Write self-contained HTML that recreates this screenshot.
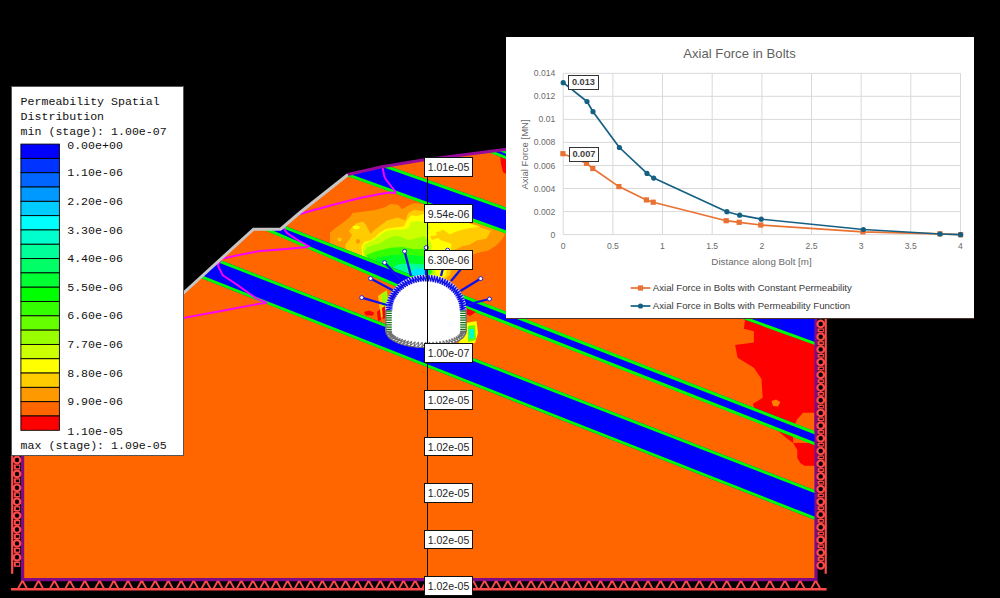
<!DOCTYPE html>
<html><head><meta charset="utf-8"><title>Permeability</title>
<style>
html,body{margin:0;padding:0;background:#000;}
body{width:1000px;height:598px;position:relative;overflow:hidden;font-family:"Liberation Sans",sans-serif;}
.lab{position:absolute;left:424px;width:47px;height:17.7px;border:1px solid #111;background:#fff;font-size:10.55px;line-height:18.7px;text-align:center;color:#222;box-sizing:content-box}
#vl{position:absolute;left:427px;top:170px;width:1.2px;height:410px;background:#000}
#legend{position:absolute;left:10.5px;top:85.5px;width:171px;height:368px;background:#fff;border:1px solid #555;font-family:"Liberation Mono",monospace;font-size:11.6px;color:#111}
#legend .t{position:absolute;left:9.1px;white-space:pre}
#legend .sw{position:absolute;left:9px;width:37.5px;height:13.3px;border:1px solid #000;box-sizing:content-box}
#legend .v{position:absolute;left:55.7px;white-space:pre}
#chart{position:absolute;left:506px;top:37px;width:467.7px;height:281.3px;background:#fff;border-bottom:1px solid #4a3428;box-sizing:content-box}
.ax{position:absolute;font-size:8.6px;color:#6a6a6a;white-space:nowrap}
</style></head><body>

<svg width="1000" height="598" viewBox="0 0 1000 598" style="position:absolute;left:0;top:0">
<defs><clipPath id="mc"><polygon points="23.0,446.0 184.0,292.5 253.5,229.2 280.5,229.2 300.0,212.5 348.0,174.5 382.0,166.8 423.0,160.0 505.0,149.6 817.0,110.0 817.0,579.0 23.0,579.0"/></clipPath></defs>
<rect width="1000" height="598" fill="#000"/>
<g clip-path="url(#mc)">
<rect x="0" y="100" width="830" height="490" fill="#ff6600"/>
<polygon points="330.0,232.7 336.0,227.4 342.0,223.6 349.6,217.6 352.6,213.0 364.6,211.6 375.2,210.0 385.7,207.0 390.2,204.0 397.8,204.8 402.3,209.3 408.3,205.5 414.3,203.3 420.4,204.0 426.0,203.5 505.0,231.7 504.3,235.7 501.3,240.2 495.3,246.2 487.8,250.7 480.2,252.2 472.7,254.5 466.0,262.0 462.0,270.3 455.0,277.0 447.0,282.0 426.0,280.0 400.0,282.0 330.0,244.4" fill="#ff9900" />
<polygon points="346.0,250.6 345.0,246.0 347.0,242.0 350.0,239.0 352.0,235.0 349.0,231.0 352.0,227.0 356.0,223.5 363.0,221.4 366.0,225.0 370.7,234.0 375.0,229.6 381.0,225.0 387.0,220.6 397.8,217.6 405.3,220.6 408.3,213.0 414.3,210.0 420.4,210.8 426.4,211.0 440.0,214.0 472.7,225.0 490.8,231.0 486.3,238.7 477.2,240.2 469.7,244.7 462.2,246.2 453.0,250.7 452.0,262.0 450.0,275.0 444.0,280.0 426.0,280.0 400.0,282.0" fill="#ffcc00" />
<polygon points="356.0,239.5 359.0,239.0 360.5,241.5 358.5,243.8 356.0,243.0" fill="#ff9900" />
<polygon points="337.5,238.0 340.0,237.5 342.0,239.5 340.5,241.7 338.0,241.0" fill="#ffcc00" />
<polygon points="361.6,246.2 364.6,241.7 370.7,240.2 375.2,237.2 379.7,232.7 385.7,228.9 394.8,227.4 403.8,226.6 406.8,220.6 411.3,215.3 417.3,216.0 423.4,214.0 445.0,216.0 480.2,226.6 469.7,228.0 457.7,231.0 450.0,234.2 442.6,229.6 435.0,235.7 430.0,236.0 432.0,240.0 438.0,238.0 451.6,244.0 450.0,252.0 448.0,262.0 446.0,276.0 440.0,280.0 426.0,280.0 400.0,282.0 362.0,256.8" fill="#ffff00" />
<polygon points="352.6,226.2 357.0,225.6 360.0,227.0 359.0,228.9 354.0,229.2" fill="#ffff00" />
<polygon points="436.0,232.0 443.0,231.0 449.0,236.0 447.0,242.0 440.0,240.0" fill="#ffcc00" />
<polygon points="362.4,250.7 363.9,244.7 369.2,241.7 373.7,239.4 381.2,234.2 387.2,230.4 396.3,229.6 403.8,229.6 408.3,228.0 411.3,222.0 418.0,221.0 424.0,222.0 430.0,226.0 428.0,236.0 432.0,246.0 430.0,256.0 434.0,266.0 437.0,276.0 426.0,280.0 400.0,282.0 364.0,257.6" fill="#ccff00" />
<polygon points="363.9,252.2 367.7,247.0 379.7,243.2 387.2,238.7 394.8,235.7 402.3,237.2 408.3,240.2 417.3,238.0 424.0,236.0 428.0,240.0 430.0,250.0 431.0,260.0 434.0,272.0 426.0,280.0 400.0,282.0 366.0,258.4" fill="#99ff00" />
<polygon points="366.0,255.2 375.2,251.5 390.2,247.7 402.3,247.0 414.3,249.2 424.0,249.0 429.0,253.0 430.0,262.0 432.0,272.0 426.0,280.0 400.0,282.0 370.0,259.9" fill="#33ff00" />
<polygon points="375.2,258.3 390.2,255.2 402.3,254.5 414.3,255.2 424.0,256.5 428.5,260.0 430.0,272.0 426.0,280.0 400.0,282.0 378.0,263.0" fill="#00ff22" />
<polygon points="392.0,268.0 399.0,264.0 412.0,263.5 424.0,264.5 428.0,268.0 429.0,276.0 426.0,280.0 400.0,282.0 394.0,270.2" fill="#00ff99" />
<polygon points="411.0,273.0 415.0,268.5 424.0,268.5 428.0,272.0 428.0,279.0 411.0,280.0" fill="#00e5ff" />
<polygon points="745.0,320.0 743.9,328.8 753.9,331.3 753.9,342.6 735.1,345.1 737.6,357.7 753.9,367.7 761.5,379.0 762.7,397.8 752.7,404.0 760.0,420.0 778.2,431.0 786.2,438.0 793.2,443.0 797.3,450.0 797.3,458.0 800.3,463.0 804.3,465.8 820.0,465.8 820.0,340.0" fill="#ff0000" />
<polygon points="771.5,401.0 776.0,399.5 780.3,402.0 778.0,406.6 773.0,406.0" fill="#ff8000" />
<polygon points="796.6,420.0 803.0,412.8 814.5,412.8 814.5,443.0 793.2,443.0 793.2,430.0" fill="#ff6600" />
<polygon points="500.0,156.0 506.0,156.0 506.0,174.0 503.0,172.0 501.0,164.0" fill="#ff0000" />
<polygon points="500.0,148.6 830.0,267.4 830.0,288.7 486.5,151.3" fill="#0000ff" />
<line x1="500.0" y1="150.0" x2="830.0" y2="268.8" stroke="#00ff00" stroke-width="2.9"/>
<line x1="486.5" y1="149.9" x2="830.0" y2="287.3" stroke="#00ff00" stroke-width="2.9"/>
<polygon points="383.0,164.2 830.0,321.1 830.0,350.3 348.0,176.3" fill="#0000ff" />
<line x1="383.0" y1="165.6" x2="830.0" y2="322.5" stroke="#00ff00" stroke-width="2.9"/>
<line x1="348.0" y1="174.9" x2="830.0" y2="348.9" stroke="#00ff00" stroke-width="2.9"/>
<polygon points="282.0,224.8 426.0,280.6 426.0,299.3 262.5,229.0" fill="#0000ff" />
<line x1="282.0" y1="226.3" x2="426.0" y2="282.1" stroke="#00ff00" stroke-width="2.9"/>
<line x1="262.5" y1="227.6" x2="426.0" y2="297.9" stroke="#00ff00" stroke-width="2.9"/>
<polygon points="426.0,280.6 830.0,437.2 830.0,451.1 426.0,293.0" fill="#0000ff" />
<line x1="426.0" y1="282.1" x2="830.0" y2="438.7" stroke="#00ff00" stroke-width="2.9"/>
<line x1="426.0" y1="291.5" x2="830.0" y2="449.7" stroke="#00ff00" stroke-width="2.9"/>
<polygon points="0.0,175.0 830.0,496.1 830.0,525.8 0.0,198.8" fill="#0000ff" />
<line x1="0.0" y1="176.5" x2="830.0" y2="497.5" stroke="#00ff00" stroke-width="2.9"/>
<line x1="0.0" y1="197.4" x2="830.0" y2="524.3" stroke="#00ff00" stroke-width="2.9"/>
<polygon points="466.0,323.0 476.5,321.0 478.0,333.0 475.0,343.0 457.0,345.0 461.0,339.0 466.0,331.0" fill="#ffff00" />
<polygon points="468.0,326.0 475.0,325.0 476.0,340.0 468.0,342.0" fill="#66ff00" />
<polygon points="469.0,329.0 474.0,329.0 474.0,338.0 469.0,339.0" fill="#00ffcc" />
<polygon points="378.0,296.0 387.0,290.0 388.0,312.0 381.0,318.0" fill="#ffcc00" />
<polygon points="381.0,294.0 387.0,291.0 388.0,305.0 383.0,308.0" fill="#99ff00" />
<polygon points="377.0,312.0 380.0,309.0 381.0,320.0 378.0,321.0" fill="#ff0000" />
<polygon points="364.0,312.0 369.0,310.5 374.0,312.5 373.0,315.5 366.0,315.5" fill="#ff0000" />
<polygon points="382.0,308.0 385.0,306.0 385.5,318.0 383.0,319.0" fill="#ff0000" />
<polygon points="466.0,308.0 476.0,312.0 470.0,316.0 466.0,314.0" fill="#ff0000" />
<polyline points="382.5,165.5 383.0,170.0 384.5,177.0 387.0,181.0 395.0,191.0 395.5,193.0 390.0,192.5 380.0,194.0 360.0,198.0 340.0,203.0 314.0,210.0 298.0,214.5 282.0,225.0 284.5,229.5 287.0,233.0 296.0,239.0 309.0,246.5 305.0,247.2 280.0,249.5 260.0,251.0 237.8,255.2 221.5,258.9 217.7,265.2 222.7,275.2 237.8,285.3 255.3,297.8 266.6,302.8 257.8,304.0 225.2,310.3 183.9,317.9 120.0,330.0" fill="none" stroke="#ff00ff" stroke-width="1.9" stroke-linejoin="round"/>
</g>
<polyline points="23.0,446.0 184.0,292.5 253.5,229.2 280.5,229.2 300.0,212.5 348.0,174.5" fill="none" stroke="#c6c6c6" stroke-width="3"/>
<polyline points="348.0,174.5 382.0,166.8 423.0,160.0 505.0,149.6 817.0,110.0" fill="none" stroke="#9a0a9a" stroke-width="3"/>
<polyline points="22.6,440 22.6,579.6 816,579.6 816,300" fill="none" stroke="#800a86" stroke-width="3.2"/>
<path d="M 385.5,310 A 40.5 35.4 0 0 1 466.5,310 L 466.5,331 A 40.5 16.8 0 0 1 385.5,331 Z" fill="#fff"/>
<path d="M 388.6,310 A 37.4 32.3 0 0 1 463.4,310" fill="none" stroke="#5a5af0" stroke-width="5.6" opacity="0.25"/>
<path d="M 392.40,310.00 L 385.70,310.00 L 392.49,307.96 M 392.49,307.96 L 385.80,307.49 L 392.74,305.93 M 392.74,305.93 L 386.11,304.99 L 393.17,303.92 M 393.17,303.92 L 386.62,302.52 L 393.76,301.94 M 393.76,301.94 L 387.33,300.08 L 394.52,300.01 M 394.52,300.01 L 388.24,297.70 L 395.44,298.12 M 395.44,298.12 L 389.34,295.38 L 396.51,296.29 M 396.51,296.29 L 390.63,293.13 L 397.73,294.54 M 397.73,294.54 L 392.10,290.97 L 399.10,292.86 M 399.10,292.86 L 393.74,288.91 L 400.61,291.27 M 400.61,291.27 L 395.54,286.95 L 402.24,289.78 M 402.24,289.78 L 397.50,285.11 L 404.00,288.39 M 404.00,288.39 L 399.61,283.40 L 405.86,287.10 M 405.86,287.10 L 401.85,281.82 L 407.83,285.94 M 407.83,285.94 L 404.21,280.39 L 409.90,284.90 M 409.90,284.90 L 406.69,279.11 L 412.04,283.98 M 412.04,283.98 L 409.26,277.98 L 414.26,283.20 M 414.26,283.20 L 411.92,277.02 L 416.53,282.56 M 416.53,282.56 L 414.65,276.23 L 418.86,282.05 M 418.86,282.05 L 417.43,275.60 L 421.22,281.69 M 421.22,281.69 L 420.26,275.16 L 423.60,281.47 M 423.60,281.47 L 423.13,274.89 L 426.00,281.40 M 426.00,281.40 L 426.00,274.80 L 428.40,281.47 M 428.40,281.47 L 428.87,274.89 L 430.78,281.69 M 430.78,281.69 L 431.74,275.16 L 433.14,282.05 M 433.14,282.05 L 434.57,275.60 L 435.47,282.56 M 435.47,282.56 L 437.35,276.23 L 437.74,283.20 M 437.74,283.20 L 440.08,277.02 L 439.96,283.98 M 439.96,283.98 L 442.74,277.98 L 442.10,284.90 M 442.10,284.90 L 445.31,279.11 L 444.17,285.94 M 444.17,285.94 L 447.79,280.39 L 446.14,287.10 M 446.14,287.10 L 450.15,281.82 L 448.00,288.39 M 448.00,288.39 L 452.39,283.40 L 449.76,289.78 M 449.76,289.78 L 454.50,285.11 L 451.39,291.27 M 451.39,291.27 L 456.46,286.95 L 452.90,292.86 M 452.90,292.86 L 458.26,288.91 L 454.27,294.54 M 454.27,294.54 L 459.90,290.97 L 455.49,296.29 M 455.49,296.29 L 461.37,293.13 L 456.56,298.12 M 456.56,298.12 L 462.66,295.38 L 457.48,300.01 M 457.48,300.01 L 463.76,297.70 L 458.24,301.94 M 458.24,301.94 L 464.67,300.08 L 458.83,303.92 M 458.83,303.92 L 465.38,302.52 L 459.26,305.93 M 459.26,305.93 L 465.89,304.99 L 459.51,307.96 M 459.51,307.96 L 466.20,307.49 L 459.60,310.00 M 459.60,310.00 L 466.30,310.00" fill="none" stroke="#1010e6" stroke-width="1.20" stroke-linejoin="bevel"/>
<path d="M 385.8,311.0 L 391.8,311.0 M 460.2,311.0 L 466.2,311.0 M 385.8,313.3 L 391.8,313.3 M 460.2,313.3 L 466.2,313.3 M 385.8,315.6 L 391.8,315.6 M 460.2,315.6 L 466.2,315.6 M 385.8,317.9 L 391.8,317.9 M 460.2,317.9 L 466.2,317.9 M 385.8,320.2 L 391.8,320.2 M 460.2,320.2 L 466.2,320.2 M 385.8,322.5 L 391.8,322.5 M 460.2,322.5 L 466.2,322.5 M 385.8,324.8 L 391.8,324.8 M 460.2,324.8 L 466.2,324.8 M 385.8,327.1 L 391.8,327.1 M 460.2,327.1 L 466.2,327.1 M 385.8,329.4 L 391.8,329.4 M 460.2,329.4 L 466.2,329.4 M 385.8,331.7 L 391.8,331.7 M 460.2,331.7 L 466.2,331.7" fill="none" stroke="#0f700f" stroke-width="1.25"/>
<path d="M 391.60,331.00 L 385.80,331.00 L 391.79,332.17 M 391.79,332.17 L 386.02,332.74 L 392.35,333.33 M 392.35,333.33 L 386.68,334.45 L 393.28,334.46 M 393.28,334.46 L 387.77,336.13 L 394.57,335.56 M 394.57,335.56 L 389.28,337.75 L 396.21,336.60 M 396.21,336.60 L 391.19,339.30 L 398.17,337.58 M 398.17,337.58 L 393.48,340.76 L 400.44,338.49 M 400.44,338.49 L 396.13,342.11 L 402.98,339.32 M 402.98,339.32 L 399.10,343.34 L 405.78,340.06 M 405.78,340.06 L 402.37,344.43 L 408.80,340.70 M 408.80,340.70 L 405.90,345.38 L 412.01,341.23 M 412.01,341.23 L 409.65,346.16 L 415.37,341.65 M 415.37,341.65 L 413.58,346.79 L 418.85,341.96 M 418.85,341.96 L 417.64,347.24 L 422.40,342.14 M 422.40,342.14 L 421.80,347.51 L 426.00,342.20 M 426.00,342.20 L 426.00,347.60 L 429.60,342.14 M 429.60,342.14 L 430.20,347.51 L 433.15,341.96 M 433.15,341.96 L 434.36,347.24 L 436.63,341.65 M 436.63,341.65 L 438.42,346.79 L 439.99,341.23 M 439.99,341.23 L 442.35,346.16 L 443.20,340.70 M 443.20,340.70 L 446.10,345.38 L 446.22,340.06 M 446.22,340.06 L 449.63,344.43 L 449.02,339.32 M 449.02,339.32 L 452.90,343.34 L 451.56,338.49 M 451.56,338.49 L 455.87,342.11 L 453.83,337.58 M 453.83,337.58 L 458.52,340.76 L 455.79,336.60 M 455.79,336.60 L 460.81,339.30 L 457.43,335.56 M 457.43,335.56 L 462.72,337.75 L 458.72,334.46 M 458.72,334.46 L 464.23,336.13 L 459.65,333.33 M 459.65,333.33 L 465.32,334.45 L 460.21,332.17 M 460.21,332.17 L 465.98,332.74 L 460.40,331.00 M 460.40,331.00 L 466.20,331.00" fill="none" stroke="#707070" stroke-width="1.05" stroke-linejoin="bevel"/>
<path d="M 385.8,310 L 385.8,331 A 40.2 16.6 0 0 0 466.2,331 L 466.2,310" fill="none" stroke="#6a6a6a" stroke-width="1.2"/>
<line x1="387.0" y1="305.0" x2="361.7" y2="297.6" stroke="#1010e8" stroke-width="2.3"/>
<line x1="392.6" y1="290.2" x2="370.6" y2="278.5" stroke="#1010e8" stroke-width="2.3"/>
<line x1="400.0" y1="279.0" x2="384.6" y2="262.6" stroke="#1010e8" stroke-width="2.3"/>
<line x1="411.0" y1="276.0" x2="404.6" y2="251.3" stroke="#1010e8" stroke-width="2.3"/>
<line x1="426.0" y1="275.0" x2="426.3" y2="247.6" stroke="#1010e8" stroke-width="2.3"/>
<line x1="441.0" y1="276.0" x2="447.6" y2="250.2" stroke="#1010e8" stroke-width="2.3"/>
<line x1="451.0" y1="281.0" x2="467.0" y2="262.0" stroke="#1010e8" stroke-width="2.3"/>
<line x1="460.4" y1="291.0" x2="480.7" y2="278.6" stroke="#1010e8" stroke-width="2.3"/>
<line x1="465.4" y1="305.0" x2="489.5" y2="299.0" stroke="#1010e8" stroke-width="2.3"/>
<circle cx="361.7" cy="297.6" r="2" fill="#fff" stroke="#2020e0" stroke-width="1"/>
<circle cx="370.6" cy="278.5" r="2" fill="#fff" stroke="#2020e0" stroke-width="1"/>
<circle cx="384.6" cy="262.6" r="2" fill="#fff" stroke="#2020e0" stroke-width="1"/>
<circle cx="404.6" cy="251.3" r="2" fill="#fff" stroke="#2020e0" stroke-width="1"/>
<circle cx="426.3" cy="247.6" r="2" fill="#fff" stroke="#2020e0" stroke-width="1"/>
<circle cx="447.6" cy="250.2" r="2" fill="#fff" stroke="#2020e0" stroke-width="1"/>
<circle cx="467.0" cy="262.0" r="2" fill="#fff" stroke="#2020e0" stroke-width="1"/>
<circle cx="480.7" cy="278.6" r="2" fill="#fff" stroke="#2020e0" stroke-width="1"/>
<circle cx="489.5" cy="299.0" r="2" fill="#fff" stroke="#2020e0" stroke-width="1"/>
<path d="M 18.0,588.6 L 21.8,581.8 L 23.2,581.8 L 27.0,588.6 M 34.1,588.6 L 37.9,581.8 L 39.3,581.8 L 43.1,588.6 M 49.9,588.6 L 53.7,581.8 L 55.1,581.8 L 58.9,588.6 M 65.3,588.6 L 69.1,581.8 L 70.5,581.8 L 74.3,588.6 M 80.3,588.6 L 84.1,581.8 L 85.5,581.8 L 89.3,588.6 M 95.1,588.6 L 98.9,581.8 L 100.3,581.8 L 104.1,588.6 M 109.4,588.6 L 113.2,581.8 L 114.6,581.8 L 118.4,588.6 M 123.5,588.6 L 127.3,581.8 L 128.7,581.8 L 132.5,588.6 M 137.3,588.6 L 141.1,581.8 L 142.5,581.8 L 146.3,588.6 M 150.7,588.6 L 154.5,581.8 L 155.9,581.8 L 159.7,588.6 M 163.8,588.6 L 167.6,581.8 L 169.0,581.8 L 172.8,588.6 M 176.7,588.6 L 180.5,581.8 L 181.9,581.8 L 185.7,588.6 M 189.2,588.6 L 193.0,581.8 L 194.4,581.8 L 198.2,588.6 M 201.5,588.6 L 205.3,581.8 L 206.7,581.8 L 210.5,588.6 M 213.5,588.6 L 217.3,581.8 L 218.7,581.8 L 222.5,588.6 M 225.2,588.6 L 229.0,581.8 L 230.4,581.8 L 234.2,588.6 M 236.8,588.6 L 240.6,581.8 L 242.0,581.8 L 245.8,588.6 M 248.4,588.6 L 252.2,581.8 L 253.6,581.8 L 257.4,588.6 M 260.0,588.6 L 263.8,581.8 L 265.2,581.8 L 269.0,588.6 M 271.5,588.6 L 275.3,581.8 L 276.7,581.8 L 280.5,588.6 M 283.1,588.6 L 286.9,581.8 L 288.3,581.8 L 292.1,588.6 M 294.7,588.6 L 298.5,581.8 L 299.9,581.8 L 303.7,588.6 M 306.3,588.6 L 310.1,581.8 L 311.5,581.8 L 315.3,588.6 M 317.9,588.6 L 321.7,581.8 L 323.1,581.8 L 326.9,588.6 M 329.5,588.6 L 333.3,581.8 L 334.7,581.8 L 338.5,588.6 M 341.1,588.6 L 344.9,581.8 L 346.3,581.8 L 350.1,588.6 M 352.7,588.6 L 356.5,581.8 L 357.9,581.8 L 361.7,588.6 M 364.2,588.6 L 368.0,581.8 L 369.4,581.8 L 373.2,588.6 M 375.8,588.6 L 379.6,581.8 L 381.0,581.8 L 384.8,588.6 M 387.4,588.6 L 391.2,581.8 L 392.6,581.8 L 396.4,588.6 M 399.0,588.6 L 402.8,581.8 L 404.2,581.8 L 408.0,588.6 M 410.6,588.6 L 414.4,581.8 L 415.8,581.8 L 419.6,588.6 M 422.2,588.6 L 426.0,581.8 L 427.4,581.8 L 431.2,588.6 M 433.8,588.6 L 437.6,581.8 L 439.0,581.8 L 442.8,588.6 M 445.4,588.6 L 449.2,581.8 L 450.6,581.8 L 454.4,588.6 M 456.9,588.6 L 460.7,581.8 L 462.1,581.8 L 465.9,588.6 M 468.5,588.6 L 472.3,581.8 L 473.7,581.8 L 477.5,588.6 M 480.1,588.6 L 483.9,581.8 L 485.3,581.8 L 489.1,588.6 M 491.7,588.6 L 495.5,581.8 L 496.9,581.8 L 500.7,588.6 M 503.3,588.6 L 507.1,581.8 L 508.5,581.8 L 512.3,588.6 M 514.9,588.6 L 518.7,581.8 L 520.1,581.8 L 523.9,588.6 M 526.5,588.6 L 530.3,581.8 L 531.7,581.8 L 535.5,588.6 M 538.0,588.6 L 541.8,581.8 L 543.2,581.8 L 547.0,588.6 M 549.6,588.6 L 553.4,581.8 L 554.8,581.8 L 558.6,588.6 M 561.2,588.6 L 565.0,581.8 L 566.4,581.8 L 570.2,588.6 M 572.8,588.6 L 576.6,581.8 L 578.0,581.8 L 581.8,588.6 M 584.4,588.6 L 588.2,581.8 L 589.6,581.8 L 593.4,588.6 M 596.0,588.6 L 599.8,581.8 L 601.2,581.8 L 605.0,588.6 M 607.6,588.6 L 611.4,581.8 L 612.8,581.8 L 616.6,588.6 M 619.3,588.6 L 623.1,581.8 L 624.5,581.8 L 628.3,588.6 M 631.3,588.6 L 635.1,581.8 L 636.5,581.8 L 640.3,588.6 M 643.5,588.6 L 647.3,581.8 L 648.7,581.8 L 652.5,588.6 M 656.0,588.6 L 659.8,581.8 L 661.2,581.8 L 665.0,588.6 M 668.7,588.6 L 672.5,581.8 L 673.9,581.8 L 677.7,588.6 M 681.7,588.6 L 685.5,581.8 L 686.9,581.8 L 690.7,588.6 M 695.0,588.6 L 698.8,581.8 L 700.2,581.8 L 704.0,588.6 M 708.5,588.6 L 712.3,581.8 L 713.7,581.8 L 717.5,588.6 M 722.3,588.6 L 726.1,581.8 L 727.5,581.8 L 731.3,588.6 M 736.4,588.6 L 740.2,581.8 L 741.6,581.8 L 745.4,588.6 M 750.7,588.6 L 754.5,581.8 L 755.9,581.8 L 759.7,588.6 M 765.4,588.6 L 769.2,581.8 L 770.6,581.8 L 774.4,588.6 M 780.4,588.6 L 784.2,581.8 L 785.6,581.8 L 789.4,588.6 M 795.6,588.6 L 799.4,581.8 L 800.8,581.8 L 804.6,588.6 M 811.2,588.6 L 815.0,581.8 L 816.4,581.8 L 820.2,588.6" fill="none" stroke="#ff4a4a" stroke-width="1.9" stroke-linejoin="miter"/>
<line x1="11" y1="589.3" x2="826.6" y2="589.3" stroke="#ff4a4a" stroke-width="2.4"/>
<line x1="12.2" y1="455.0" x2="12.2" y2="573.8" stroke="#ff4a4a" stroke-width="2.2"/>
<circle cx="17.0" cy="460.0" r="3.3" fill="#000" stroke="#ff4a4a" stroke-width="2.2"/>
<rect x="13.8" y="464.4" width="6.4" height="5.1" fill="#ff4a4a"/>
<rect x="15.8" y="465.7" width="3.4" height="2.5" fill="#000"/>
<circle cx="17.0" cy="473.9" r="3.3" fill="#000" stroke="#ff4a4a" stroke-width="2.2"/>
<rect x="13.8" y="478.3" width="6.4" height="5.1" fill="#ff4a4a"/>
<rect x="15.8" y="479.6" width="3.4" height="2.5" fill="#000"/>
<circle cx="17.0" cy="487.8" r="3.3" fill="#000" stroke="#ff4a4a" stroke-width="2.2"/>
<rect x="13.8" y="492.2" width="6.4" height="5.1" fill="#ff4a4a"/>
<rect x="15.8" y="493.5" width="3.4" height="2.5" fill="#000"/>
<circle cx="17.0" cy="501.7" r="3.3" fill="#000" stroke="#ff4a4a" stroke-width="2.2"/>
<rect x="13.8" y="506.1" width="6.4" height="5.1" fill="#ff4a4a"/>
<rect x="15.8" y="507.4" width="3.4" height="2.5" fill="#000"/>
<circle cx="17.0" cy="515.6" r="3.3" fill="#000" stroke="#ff4a4a" stroke-width="2.2"/>
<rect x="13.8" y="520.0" width="6.4" height="5.1" fill="#ff4a4a"/>
<rect x="15.8" y="521.3" width="3.4" height="2.5" fill="#000"/>
<circle cx="17.0" cy="529.5" r="3.3" fill="#000" stroke="#ff4a4a" stroke-width="2.2"/>
<rect x="13.8" y="533.9" width="6.4" height="5.1" fill="#ff4a4a"/>
<rect x="15.8" y="535.2" width="3.4" height="2.5" fill="#000"/>
<circle cx="17.0" cy="543.4" r="3.3" fill="#000" stroke="#ff4a4a" stroke-width="2.2"/>
<rect x="13.8" y="547.8" width="6.4" height="5.1" fill="#ff4a4a"/>
<rect x="15.8" y="549.1" width="3.4" height="2.5" fill="#000"/>
<circle cx="17.0" cy="557.3" r="3.3" fill="#000" stroke="#ff4a4a" stroke-width="2.2"/>
<rect x="13.8" y="561.7" width="6.4" height="5.1" fill="#ff4a4a"/>
<rect x="15.8" y="563.0" width="3.4" height="2.5" fill="#000"/>
<line x1="825.7" y1="319.0" x2="825.7" y2="573.8" stroke="#ff4a4a" stroke-width="2.2"/>
<circle cx="820.7" cy="324.0" r="3.3" fill="#000" stroke="#ff4a4a" stroke-width="2.2"/>
<rect x="817.5" y="328.4" width="6.4" height="3.9" fill="#ff4a4a"/>
<rect x="819.5" y="329.7" width="3.4" height="1.3" fill="#000"/>
<circle cx="820.7" cy="336.7" r="3.3" fill="#000" stroke="#ff4a4a" stroke-width="2.2"/>
<rect x="817.5" y="341.1" width="6.4" height="3.9" fill="#ff4a4a"/>
<rect x="819.5" y="342.4" width="3.4" height="1.3" fill="#000"/>
<circle cx="820.7" cy="349.4" r="3.3" fill="#000" stroke="#ff4a4a" stroke-width="2.2"/>
<rect x="817.5" y="353.8" width="6.4" height="3.9" fill="#ff4a4a"/>
<rect x="819.5" y="355.1" width="3.4" height="1.3" fill="#000"/>
<circle cx="820.7" cy="362.1" r="3.3" fill="#000" stroke="#ff4a4a" stroke-width="2.2"/>
<rect x="817.5" y="366.5" width="6.4" height="3.9" fill="#ff4a4a"/>
<rect x="819.5" y="367.8" width="3.4" height="1.3" fill="#000"/>
<circle cx="820.7" cy="374.8" r="3.3" fill="#000" stroke="#ff4a4a" stroke-width="2.2"/>
<rect x="817.5" y="379.2" width="6.4" height="3.9" fill="#ff4a4a"/>
<rect x="819.5" y="380.5" width="3.4" height="1.3" fill="#000"/>
<circle cx="820.7" cy="387.5" r="3.3" fill="#000" stroke="#ff4a4a" stroke-width="2.2"/>
<rect x="817.5" y="391.9" width="6.4" height="3.9" fill="#ff4a4a"/>
<rect x="819.5" y="393.2" width="3.4" height="1.3" fill="#000"/>
<circle cx="820.7" cy="400.2" r="3.3" fill="#000" stroke="#ff4a4a" stroke-width="2.2"/>
<rect x="817.5" y="404.6" width="6.4" height="3.9" fill="#ff4a4a"/>
<rect x="819.5" y="405.9" width="3.4" height="1.3" fill="#000"/>
<circle cx="820.7" cy="412.9" r="3.3" fill="#000" stroke="#ff4a4a" stroke-width="2.2"/>
<rect x="817.5" y="417.3" width="6.4" height="3.9" fill="#ff4a4a"/>
<rect x="819.5" y="418.6" width="3.4" height="1.3" fill="#000"/>
<circle cx="820.7" cy="425.6" r="3.3" fill="#000" stroke="#ff4a4a" stroke-width="2.2"/>
<rect x="817.5" y="430.0" width="6.4" height="3.9" fill="#ff4a4a"/>
<rect x="819.5" y="431.3" width="3.4" height="1.3" fill="#000"/>
<circle cx="820.7" cy="438.3" r="3.3" fill="#000" stroke="#ff4a4a" stroke-width="2.2"/>
<rect x="817.5" y="442.7" width="6.4" height="3.9" fill="#ff4a4a"/>
<rect x="819.5" y="444.0" width="3.4" height="1.3" fill="#000"/>
<circle cx="820.7" cy="451.0" r="3.3" fill="#000" stroke="#ff4a4a" stroke-width="2.2"/>
<rect x="817.5" y="455.4" width="6.4" height="3.9" fill="#ff4a4a"/>
<rect x="819.5" y="456.7" width="3.4" height="1.3" fill="#000"/>
<circle cx="820.7" cy="463.7" r="3.3" fill="#000" stroke="#ff4a4a" stroke-width="2.2"/>
<rect x="817.5" y="468.1" width="6.4" height="3.9" fill="#ff4a4a"/>
<rect x="819.5" y="469.4" width="3.4" height="1.3" fill="#000"/>
<circle cx="820.7" cy="476.4" r="3.3" fill="#000" stroke="#ff4a4a" stroke-width="2.2"/>
<rect x="817.5" y="480.8" width="6.4" height="3.9" fill="#ff4a4a"/>
<rect x="819.5" y="482.1" width="3.4" height="1.3" fill="#000"/>
<circle cx="820.7" cy="489.1" r="3.3" fill="#000" stroke="#ff4a4a" stroke-width="2.2"/>
<rect x="817.5" y="493.5" width="6.4" height="3.9" fill="#ff4a4a"/>
<rect x="819.5" y="494.8" width="3.4" height="1.3" fill="#000"/>
<circle cx="820.7" cy="501.8" r="3.3" fill="#000" stroke="#ff4a4a" stroke-width="2.2"/>
<rect x="817.5" y="506.2" width="6.4" height="3.9" fill="#ff4a4a"/>
<rect x="819.5" y="507.5" width="3.4" height="1.3" fill="#000"/>
<circle cx="820.7" cy="514.5" r="3.3" fill="#000" stroke="#ff4a4a" stroke-width="2.2"/>
<rect x="817.5" y="518.9" width="6.4" height="3.9" fill="#ff4a4a"/>
<rect x="819.5" y="520.2" width="3.4" height="1.3" fill="#000"/>
<circle cx="820.7" cy="527.2" r="3.3" fill="#000" stroke="#ff4a4a" stroke-width="2.2"/>
<rect x="817.5" y="531.6" width="6.4" height="3.9" fill="#ff4a4a"/>
<rect x="819.5" y="532.9" width="3.4" height="1.3" fill="#000"/>
<circle cx="820.7" cy="539.9" r="3.3" fill="#000" stroke="#ff4a4a" stroke-width="2.2"/>
<rect x="817.5" y="544.3" width="6.4" height="3.9" fill="#ff4a4a"/>
<rect x="819.5" y="545.6" width="3.4" height="1.3" fill="#000"/>
<circle cx="820.7" cy="552.6" r="3.3" fill="#000" stroke="#ff4a4a" stroke-width="2.2"/>
<rect x="817.5" y="557.0" width="6.4" height="3.9" fill="#ff4a4a"/>
<rect x="819.5" y="558.3" width="3.4" height="1.3" fill="#000"/>
<circle cx="820.7" cy="565.3" r="3.3" fill="#000" stroke="#ff4a4a" stroke-width="2.2"/>
</svg>
<div id="vl"></div>
<div class="lab" style="top:157.0px">1.01e-05</div>
<div class="lab" style="top:203.6px">9.54e-06</div>
<div class="lab" style="top:250.4px">6.30e-06</div>
<div class="lab" style="top:343.3px">1.00e-07</div>
<div class="lab" style="top:390.0px">1.02e-05</div>
<div class="lab" style="top:436.5px">1.02e-05</div>
<div class="lab" style="top:483.0px">1.02e-05</div>
<div class="lab" style="top:529.5px">1.02e-05</div>
<div class="lab" style="top:576.0px">1.02e-05</div>
<div id="legend">
<div class="t" style="top:8px">Permeability Spatial</div>
<div class="t" style="top:23px">Distribution</div>
<div class="t" style="top:38px">min (stage): 1.00e-07</div>
<svg width="60" height="300" viewBox="0 0 60 300" style="position:absolute;left:0;top:50px"><rect x="8.9" y="7.10" width="38.5" height="14.3" fill="#0000ff" stroke="#000" stroke-width="0.9"/><rect x="8.9" y="21.41" width="38.5" height="14.3" fill="#0033ff" stroke="#000" stroke-width="0.9"/><rect x="8.9" y="35.72" width="38.5" height="14.3" fill="#0066ff" stroke="#000" stroke-width="0.9"/><rect x="8.9" y="50.03" width="38.5" height="14.3" fill="#0099ff" stroke="#000" stroke-width="0.9"/><rect x="8.9" y="64.34" width="38.5" height="14.3" fill="#00ccff" stroke="#000" stroke-width="0.9"/><rect x="8.9" y="78.65" width="38.5" height="14.3" fill="#00ffff" stroke="#000" stroke-width="0.9"/><rect x="8.9" y="92.96" width="38.5" height="14.3" fill="#00ffcc" stroke="#000" stroke-width="0.9"/><rect x="8.9" y="107.27" width="38.5" height="14.3" fill="#00ff99" stroke="#000" stroke-width="0.9"/><rect x="8.9" y="121.58" width="38.5" height="14.3" fill="#00ff66" stroke="#000" stroke-width="0.9"/><rect x="8.9" y="135.89" width="38.5" height="14.3" fill="#00ff33" stroke="#000" stroke-width="0.9"/><rect x="8.9" y="150.20" width="38.5" height="14.3" fill="#00ff00" stroke="#000" stroke-width="0.9"/><rect x="8.9" y="164.51" width="38.5" height="14.3" fill="#33ff00" stroke="#000" stroke-width="0.9"/><rect x="8.9" y="178.82" width="38.5" height="14.3" fill="#66ff00" stroke="#000" stroke-width="0.9"/><rect x="8.9" y="193.13" width="38.5" height="14.3" fill="#99ff00" stroke="#000" stroke-width="0.9"/><rect x="8.9" y="207.44" width="38.5" height="14.3" fill="#ccff00" stroke="#000" stroke-width="0.9"/><rect x="8.9" y="221.75" width="38.5" height="14.3" fill="#ffff00" stroke="#000" stroke-width="0.9"/><rect x="8.9" y="236.06" width="38.5" height="14.3" fill="#ffcc00" stroke="#000" stroke-width="0.9"/><rect x="8.9" y="250.37" width="38.5" height="14.3" fill="#ff9900" stroke="#000" stroke-width="0.9"/><rect x="8.9" y="264.68" width="38.5" height="14.3" fill="#ff6600" stroke="#000" stroke-width="0.9"/><rect x="8.9" y="278.99" width="38.5" height="14.3" fill="#ff0000" stroke="#000" stroke-width="0.9"/></svg>
<div class="v" style="top:52.50px">0.00e+00</div>
<div class="v" style="top:79.90px">1.10e-06</div>
<div class="v" style="top:108.50px">2.20e-06</div>
<div class="v" style="top:137.10px">3.30e-06</div>
<div class="v" style="top:165.70px">4.40e-06</div>
<div class="v" style="top:194.30px">5.50e-06</div>
<div class="v" style="top:222.90px">6.60e-06</div>
<div class="v" style="top:251.50px">7.70e-06</div>
<div class="v" style="top:280.10px">8.80e-06</div>
<div class="v" style="top:308.70px">9.90e-06</div>
<div class="v" style="top:338.50px">1.10e-05</div>
<div class="t" style="top:352px">max (stage): 1.09e-05</div>
</div>
<div id="chart">
<svg width="468" height="282" viewBox="506 37 468 282" style="position:absolute;left:0;top:0">
<line x1="563.2" y1="234.6" x2="960.5" y2="234.6" stroke="#d9d9d9" stroke-width="1"/>
<line x1="563.2" y1="211.6" x2="960.5" y2="211.6" stroke="#d9d9d9" stroke-width="1"/>
<line x1="563.2" y1="188.5" x2="960.5" y2="188.5" stroke="#d9d9d9" stroke-width="1"/>
<line x1="563.2" y1="165.5" x2="960.5" y2="165.5" stroke="#d9d9d9" stroke-width="1"/>
<line x1="563.2" y1="142.4" x2="960.5" y2="142.4" stroke="#d9d9d9" stroke-width="1"/>
<line x1="563.2" y1="119.4" x2="960.5" y2="119.4" stroke="#d9d9d9" stroke-width="1"/>
<line x1="563.2" y1="96.3" x2="960.5" y2="96.3" stroke="#d9d9d9" stroke-width="1"/>
<line x1="563.2" y1="73.3" x2="960.5" y2="73.3" stroke="#d9d9d9" stroke-width="1"/>
<line x1="563.2" y1="73.3" x2="563.2" y2="234.6" stroke="#d9d9d9" stroke-width="1"/>
<line x1="612.9" y1="73.3" x2="612.9" y2="234.6" stroke="#d9d9d9" stroke-width="1"/>
<line x1="662.5" y1="73.3" x2="662.5" y2="234.6" stroke="#d9d9d9" stroke-width="1"/>
<line x1="712.2" y1="73.3" x2="712.2" y2="234.6" stroke="#d9d9d9" stroke-width="1"/>
<line x1="761.9" y1="73.3" x2="761.9" y2="234.6" stroke="#d9d9d9" stroke-width="1"/>
<line x1="811.5" y1="73.3" x2="811.5" y2="234.6" stroke="#d9d9d9" stroke-width="1"/>
<line x1="861.2" y1="73.3" x2="861.2" y2="234.6" stroke="#d9d9d9" stroke-width="1"/>
<line x1="910.8" y1="73.3" x2="910.8" y2="234.6" stroke="#d9d9d9" stroke-width="1"/>
<line x1="960.5" y1="73.3" x2="960.5" y2="234.6" stroke="#d9d9d9" stroke-width="1"/>
<polyline points="562.9,153.7 586.5,163.3 592.8,168.5 618.9,186.6 646.4,199.9 653.2,202.2 726.2,220.7 739.2,222.3 760.8,225.0 862.9,231.8 939.8,233.8 960.6,234.7" fill="none" stroke="#e97132" stroke-width="1.7" stroke-linejoin="round"/>
<rect x="560.3" y="151.1" width="5.2" height="5.2" fill="#e97132"/>
<rect x="583.9" y="160.7" width="5.2" height="5.2" fill="#e97132"/>
<rect x="590.2" y="165.9" width="5.2" height="5.2" fill="#e97132"/>
<rect x="616.3" y="184.0" width="5.2" height="5.2" fill="#e97132"/>
<rect x="643.8" y="197.3" width="5.2" height="5.2" fill="#e97132"/>
<rect x="650.6" y="199.6" width="5.2" height="5.2" fill="#e97132"/>
<rect x="723.6" y="218.1" width="5.2" height="5.2" fill="#e97132"/>
<rect x="736.6" y="219.7" width="5.2" height="5.2" fill="#e97132"/>
<rect x="758.2" y="222.4" width="5.2" height="5.2" fill="#e97132"/>
<rect x="860.3" y="229.2" width="5.2" height="5.2" fill="#e97132"/>
<rect x="937.2" y="231.2" width="5.2" height="5.2" fill="#e97132"/>
<rect x="958.0" y="232.1" width="5.2" height="5.2" fill="#e97132"/>
<polyline points="563.2,82.7 587.0,101.5 593.0,111.7 619.4,147.5 647.0,173.4 653.7,178.1 726.9,211.7 739.7,215.2 761.3,219.2 863.4,229.5 940.1,234.0 960.6,234.7" fill="none" stroke="#156082" stroke-width="1.7" stroke-linejoin="round"/>
<circle cx="563.2" cy="82.7" r="2.6" fill="#156082"/>
<circle cx="587.0" cy="101.5" r="2.6" fill="#156082"/>
<circle cx="593.0" cy="111.7" r="2.6" fill="#156082"/>
<circle cx="619.4" cy="147.5" r="2.6" fill="#156082"/>
<circle cx="647.0" cy="173.4" r="2.6" fill="#156082"/>
<circle cx="653.7" cy="178.1" r="2.6" fill="#156082"/>
<circle cx="726.9" cy="211.7" r="2.6" fill="#156082"/>
<circle cx="739.7" cy="215.2" r="2.6" fill="#156082"/>
<circle cx="761.3" cy="219.2" r="2.6" fill="#156082"/>
<circle cx="863.4" cy="229.5" r="2.6" fill="#156082"/>
<circle cx="940.1" cy="234.0" r="2.6" fill="#156082"/>
<circle cx="960.6" cy="234.7" r="2.6" fill="#156082"/>
<line x1="630.6" y1="288" x2="650.4" y2="288" stroke="#e97132" stroke-width="1.7"/><rect x="637.9" y="285.4" width="5.2" height="5.2" fill="#e97132"/>
<line x1="630.6" y1="306" x2="650.4" y2="306" stroke="#156082" stroke-width="1.7"/><circle cx="640.5" cy="306" r="2.6" fill="#156082"/>
</svg>
<div style="position:absolute;left:0;width:467px;top:9.4px;text-align:center;font-size:13.1px;letter-spacing:0.03px;color:#5f5f5f">Axial Force in Bolts</div>
<div class="ax" style="right:418.4px;top:192.6px;text-align:right">0</div>
<div class="ax" style="right:418.4px;top:169.6px;text-align:right">0.002</div>
<div class="ax" style="right:418.4px;top:146.5px;text-align:right">0.004</div>
<div class="ax" style="right:418.4px;top:123.5px;text-align:right">0.006</div>
<div class="ax" style="right:418.4px;top:100.4px;text-align:right">0.008</div>
<div class="ax" style="right:418.4px;top:77.4px;text-align:right">0.01</div>
<div class="ax" style="right:418.4px;top:54.3px;text-align:right">0.012</div>
<div class="ax" style="right:418.4px;top:31.3px;text-align:right">0.014</div>
<div class="ax" style="left:42.2px;top:203.8px;width:30px;text-align:center">0</div>
<div class="ax" style="left:91.9px;top:203.8px;width:30px;text-align:center">0.5</div>
<div class="ax" style="left:141.5px;top:203.8px;width:30px;text-align:center">1</div>
<div class="ax" style="left:191.2px;top:203.8px;width:30px;text-align:center">1.5</div>
<div class="ax" style="left:240.9px;top:203.8px;width:30px;text-align:center">2</div>
<div class="ax" style="left:290.5px;top:203.8px;width:30px;text-align:center">2.5</div>
<div class="ax" style="left:340.2px;top:203.8px;width:30px;text-align:center">3</div>
<div class="ax" style="left:389.8px;top:203.8px;width:30px;text-align:center">3.5</div>
<div class="ax" style="left:439.5px;top:203.8px;width:30px;text-align:center">4</div>
<div class="ax" style="left:185.5px;top:219.0px;width:140px;text-align:center;font-size:9.75px">Distance along Bolt [m]</div>
<div class="ax" style="left:-42.4px;top:112.0px;width:120px;text-align:center;font-size:9.5px;transform:rotate(-90deg);transform-origin:center center">Axial Force [MN]</div>
<div class="ax" style="left:146.8px;top:245.4px;font-size:9.65px;color:#3a3a3a">Axial Force in Bolts with Constant Permeability</div>
<div class="ax" style="left:146.8px;top:263.4px;font-size:9.65px;color:#3a3a3a">Axial Force in Bolts with Permeability Function</div>
<div style="position:absolute;left:62.2px;top:37.9px;width:28.5px;height:13px;border:1px solid #333;background:#fff;font-size:9.2px;font-weight:bold;color:#404040;line-height:13px;text-align:center">0.013</div>
<div style="position:absolute;left:62.7px;top:109.7px;width:28.5px;height:13px;border:1px solid #333;background:#fff;font-size:9.2px;font-weight:bold;color:#404040;line-height:13px;text-align:center">0.007</div>
</div>
</body></html>
